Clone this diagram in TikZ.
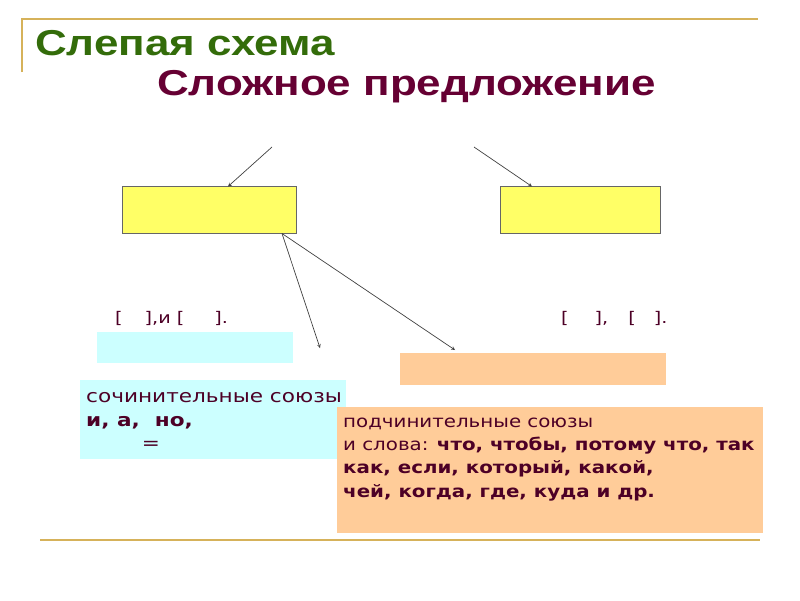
\documentclass[tikz,border=0pt]{standalone}
\usepackage{fontspec}
\setmainfont{DejaVu Sans}
\newfontfamily\titlefont[FakeStretch=1.22]{Liberation Sans}
\newfontfamily\cyanfont[FakeStretch=1.2]{DejaVu Sans}
\newfontfamily\orangefont[FakeStretch=1.165]{DejaVu Sans}
\definecolor{goldline}{RGB}{214,178,90}
\definecolor{titlegreen}{RGB}{51,108,10}
\definecolor{titlemaroon}{RGB}{102,0,51}
\definecolor{textmaroon}{RGB}{77,0,38}
\definecolor{boxyellow}{RGB}{255,255,102}
\definecolor{boxcyan}{RGB}{204,255,255}
\definecolor{boxorange}{RGB}{255,204,153}
\tikzset{
  partbox/.style={draw=black!60, fill=boxyellow, line width=0.9pt},
  titletext/.style={anchor=base west, inner sep=0pt,
    font=\titlefont\bfseries\fontsize{36}{40}\selectfont},
  schemetext/.style={text=textmaroon, inner sep=0pt},
  pointer/.style={->, black!75, line width=0.7pt, >=stealth}
}
\begin{document}
\begin{tikzpicture}[x=1pt, y=-1pt]
      \useasboundingbox (0,0) rectangle (800,600);

      % gold frame lines of the slide
      \draw[goldline, line width=1.2pt] (22,72) -- (22,19) -- (758,19);
      \draw[goldline, line width=1.2pt] (40,540) -- (760,540);

      % titles
      \node[titletext, text=titlegreen] (title) at (35,55) {Слепая схема};
      \node[titletext, text=titlemaroon] (subtitle) at (157,95) {Сложное предложение};

      % the two blank parts of the scheme
      \node[partbox, minimum width=174pt, minimum height=47pt] (leftpart) at (209,210) {};
      \node[partbox, minimum width=160pt, minimum height=47pt] (rightpart) at (580,210) {};

      % free ends of the arrows
      \coordinate (fromleft) at (272,147);
      \coordinate (fromright) at (474,147);
      \coordinate (tocyan) at (320,348);
      \coordinate (toorange) at (455,350);

      \draw[pointer] (fromleft) -- (228,186.5);
      \draw[pointer] (fromright) -- (532,186.5);
      \draw[pointer] (282,233.5) -- (tocyan);
      \draw[pointer] (282,233.5) -- (toorange);

      % bracket formulas
      \node[schemetext, anchor=base west, font=\cyanfont\fontsize{16}{20}\selectfont]
      (compound) at (115,323) {[\hspace{22pt}],и [\hspace{30pt}].};
      \node[schemetext, anchor=base west, font=\cyanfont\fontsize{16}{20}\selectfont]
      (complex) at (561,323) {[\hspace{26pt}],\hspace{20pt}[\hspace{18pt}].};

      % empty coloured strips
      \fill[boxcyan] (97,332) rectangle (293,363);
      \fill[boxorange] (400,353) rectangle (666,385);

      % coordinating conjunctions
      \fill[boxcyan] (80,380) rectangle (346,459);
      \node[schemetext, anchor=base west, align=left,
      font=\cyanfont\fontsize{18}{23.3}\selectfont] (coord) at (86,426)
      {сочинительные союзы\\
      \textbf{и, а,\ \ но,}};
      \node[schemetext, font=\cyanfont\fontsize{18}{23.3}\selectfont]
      (equal) at (151,445) {=};

      % subordinating conjunctions
      \fill[boxorange] (337,407) rectangle (763,533);
      \node[schemetext, anchor=base west, align=left,
      font=\orangefont\fontsize{17}{23.3}\selectfont] (subord) at (343,497)
      {подчинительные союзы\\
      и слова: \textbf{что, чтобы, потому что, так}\\
      \textbf{как, если, который, какой,}\\
      \textbf{чей, когда, где, куда и др.}};
\end{tikzpicture}
\end{document}
